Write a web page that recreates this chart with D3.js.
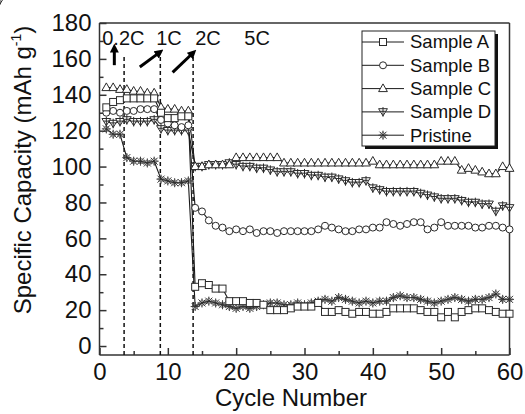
<!DOCTYPE html>
<html><head><meta charset="utf-8">
<script src="https://cdn.jsdelivr.net/npm/d3@7"></script>
<style>
body{margin:0;background:#fff}
svg{display:block}
text{font-family:"Liberation Sans",Arial,sans-serif;fill:#111}
</style>
</head><body>
<svg id="c" width="525" height="414"></svg>
<script>
// ---------- data ----------
const cycles = [1,2,3,4,5,6,7,8,9,10,11,12,13,14,15,16,17,18,19,20,21,22,23,24,25,26,27,28,29,30,
  31,32,33,34,35,36,37,38,39,40,41,42,43,44,45,46,47,48,49,50,51,52,53,54,55,56,57,58,59,60];
const sampleA = [133,136,137,138,138,138,138,138,130,127,127,128,128,
  33,35,34,32,32,25,25,25,24,24,23,20,20,20,21,22,22,22,24,19,19,20,19,
  18,19,19,18,18,19,21,21,21,21,20,19,19,16,19,16,19,20,21,21,20,19,18,18];
const sampleB = [130,131,130,131,131,132,132,132,126,124,123,122,123,
  77,75,70,67,66,64,65,64,65,63,64,64,63,64,64,64,64,64,65,67,66,65,64,
  64,65,65,66,66,69,68,67,68,69,69,65,66,69,67,67,67,67,66,66,67,67,66,65];
const sampleC = [144,144,143,143,142,142,141,141,133,132,132,131,131,
  100,100,101,101,101,101,105,105,105,105,105,105,105,102,102,102,102,102,102,102,102,102,102,
  102,102,102,103,101,101,101,101,101,101,101,101,101,103,103,103,98,99,98,97,96,96,100,99];
const sampleD = [125,124,125,126,125,125,125,126,121,120,120,120,120,
  100,100,101,101,101,102,101,100,100,99,99,98,97,97,97,96,96,95,95,94,94,93,92,
  91,91,92,88,87,86,86,86,86,86,85,84,83,82,82,82,81,80,80,79,79,75,78,77,78];
const pristine = [121,118,118,105,103,103,102,103,93,92,91,91,92,
  22,24,25,24,23,22,21,22,21,22,23,24,24,23,23,24,23,24,25,26,25,27,26,
  25,24,25,24,25,25,27,28,27,27,26,25,24,25,26,27,26,25,26,26,27,29,26,26];

const seriesNames = ["Sample A","Sample B","Sample C","Sample D","Pristine"];
const seriesValues = [sampleA, sampleB, sampleC, sampleD, pristine];
const seriesMarkers = ["square","circle","triUp","triDown","star"];

const xTicks = [0,10,20,30,40,50,60];
const xMinor = [5,15,25,35,45,55];
const yTicks = [0,20,40,60,80,100,120,140,160,180];
const yMinor = [10,30,50,70,90,110,130,150,170];

const rateLabels = ["0.2C","1C","2C","5C"];
const rateLabelX = [0.4, 8.3, 14.0, 21.2];
const rateLabelY = 167.5;
const boundaries = [3.6, 8.9, 13.7];
const boundaryTop = [162, 162, 161];
const arrows = [ // [x0,y0,x1,y1] in data units
  [2.17,156.5,2.17,164.5],
  [5.9,155.5,8.5,162.8],
  [10.7,152.5,13.4,162.3]
];

// ---------- layout ----------
const svg = d3.select("#c");
const L=99.5, R=509.5, T=23, B=355;
const x = d3.scaleLinear().domain([0,60]).range([L,R]);
const y = d3.scaleLinear().domain([-5,180]).range([B,T]);
const ink = "#1a1a1a";

svg.append("line").attr("x1",L).attr("x2",R).attr("y1",T).attr("y2",T).attr("stroke","#333").attr("stroke-width",1.5);
svg.append("line").attr("x1",R).attr("x2",R).attr("y1",T).attr("y2",B).attr("stroke","#333").attr("stroke-width",1.5);

const fs = 24;
const gx = svg.append("g").attr("transform",`translate(0,${B})`)
  .call(d3.axisBottom(x).tickValues(xTicks).tickSize(-7).tickSizeOuter(0).tickPadding(8).tickFormat(d3.format("d")));
const gxm = svg.append("g").attr("transform",`translate(0,${B})`)
  .call(d3.axisBottom(x).tickValues(xMinor).tickSize(-4).tickSizeOuter(0).tickFormat(""));
const gy = svg.append("g").attr("transform",`translate(${L},0)`)
  .call(d3.axisLeft(y).tickValues(yTicks).tickSize(-7).tickSizeOuter(0).tickPadding(8).tickFormat(d3.format("d")));
const gym = svg.append("g").attr("transform",`translate(${L},0)`)
  .call(d3.axisLeft(y).tickValues(yMinor).tickSize(-4).tickSizeOuter(0).tickFormat(""));
[gx,gxm,gy,gym].forEach(g=>{
  g.selectAll("path,line").attr("stroke","#333").attr("stroke-width",1.5);
  g.selectAll("text").attr("font-size",fs).attr("font-family","Liberation Sans, Arial, sans-serif").attr("fill","#111");
});
gym.select(".domain").remove(); gxm.select(".domain").remove();
gy.select(".domain").attr("d",`M0,${T}V${B}`);
gx.select(".domain").attr("d",`M${L},0H${R}`);

svg.append("text").attr("x",291).attr("y",406).attr("text-anchor","middle").attr("font-size",24).text("Cycle Number");
const yt = svg.append("text").attr("transform","translate(31,170) rotate(-90)").attr("text-anchor","middle").attr("font-size",24);
yt.append("tspan").text("Specific Capacity (mAh g");
yt.append("tspan").attr("font-size",14).attr("dy",-10).text("-1");
yt.append("tspan").attr("dy",10).text(")");

boundaries.forEach((b,i)=>{
  svg.append("line").attr("x1",x(b)).attr("x2",x(b)).attr("y1",y(-5)).attr("y2",y(boundaryTop[i]))
    .attr("stroke","#111").attr("stroke-width",1.5).attr("stroke-dasharray","4,3");
});

rateLabels.forEach((t,i)=>{
  svg.append("text").attr("x",x(rateLabelX[i])).attr("y",y(rateLabelY)).attr("font-size",20).text(t);
});

svg.append("defs").append("marker").attr("id","ah").attr("viewBox","0 0 10 10").attr("refX",2).attr("refY",5)
  .attr("markerWidth",9).attr("markerHeight",9).attr("markerUnits","userSpaceOnUse").attr("orient","auto")
  .append("path").attr("d","M0,0L10,5L0,10Z").attr("fill","#000");
arrows.forEach(a=>{
  svg.append("line").attr("x1",x(a[0])).attr("y1",y(a[1])).attr("x2",x(a[2])).attr("y2",y(a[3]))
    .attr("stroke","#000").attr("stroke-width",3).attr("marker-end","url(#ah)");
});

function marker(g, type, cx, cy){
  const mg = g.append("g").attr("transform",`translate(${cx},${cy})`)
    .attr("stroke","#2a2a2a").attr("stroke-width",1).attr("fill","#fff");
  if(type==="square") mg.append("rect").attr("x",-3.5).attr("y",-3.5).attr("width",7).attr("height",7);
  else if(type==="circle") mg.append("circle").attr("r",3.5);
  else if(type==="triUp") mg.append("path").attr("d","M0,-4.7L4.4,3L-4.4,3Z");
  else if(type==="triDown"){
    mg.append("path").attr("d","M0,4L4.4,-3.2L-4.4,-3.2Z");
    mg.append("path").attr("d","M0,-4.8V4.8M-2.6,-0.6H2.6").attr("fill","none");
  } else if(type==="star"){
    mg.append("path").attr("d","M-3.5,-3.5L3.5,3.5M-3.5,3.5L3.5,-3.5M0,-4.5V4.5M-4.5,0H4.5").attr("fill","none").attr("stroke","#333");
    mg.append("path").attr("d","M0,-3.4L3.4,0L0,3.4L-3.4,0Z").attr("fill","none").attr("stroke","#555").attr("stroke-width",0.8);
  }
}

const line = d3.line().x((d,i)=>x(cycles[i])).y(d=>y(d));
const order = [4,3,2,1,0];
const plot = svg.append("g");
order.forEach(k=>{
  plot.append("path").datum(seriesValues[k]).attr("d",line).attr("fill","none").attr("stroke",ink).attr("stroke-width",1.1);
});
order.forEach(k=>{
  seriesValues[k].forEach((v,i)=>marker(plot, seriesMarkers[k], x(cycles[i]), y(v)));
});

const lx=362, ly=31, lw=133, lh=115;
svg.append("rect").attr("x",lx+3).attr("y",ly+3).attr("width",lw).attr("height",lh).attr("fill","#111");
svg.append("rect").attr("x",lx).attr("y",ly).attr("width",lw).attr("height",lh).attr("fill","#fff").attr("stroke","#222").attr("stroke-width",1);
seriesNames.forEach((n,i)=>{
  const ry = ly + 11 + i*23.3;
  svg.append("line").attr("x1",lx).attr("x2",lx+42).attr("y1",ry).attr("y2",ry).attr("stroke",ink).attr("stroke-width",1);
  marker(svg, seriesMarkers[i], lx+21, ry);
  svg.append("text").attr("x",lx+48).attr("y",ry).attr("dy","0.35em").attr("font-size",18.5).text(n);
});
</script>
</body></html>
